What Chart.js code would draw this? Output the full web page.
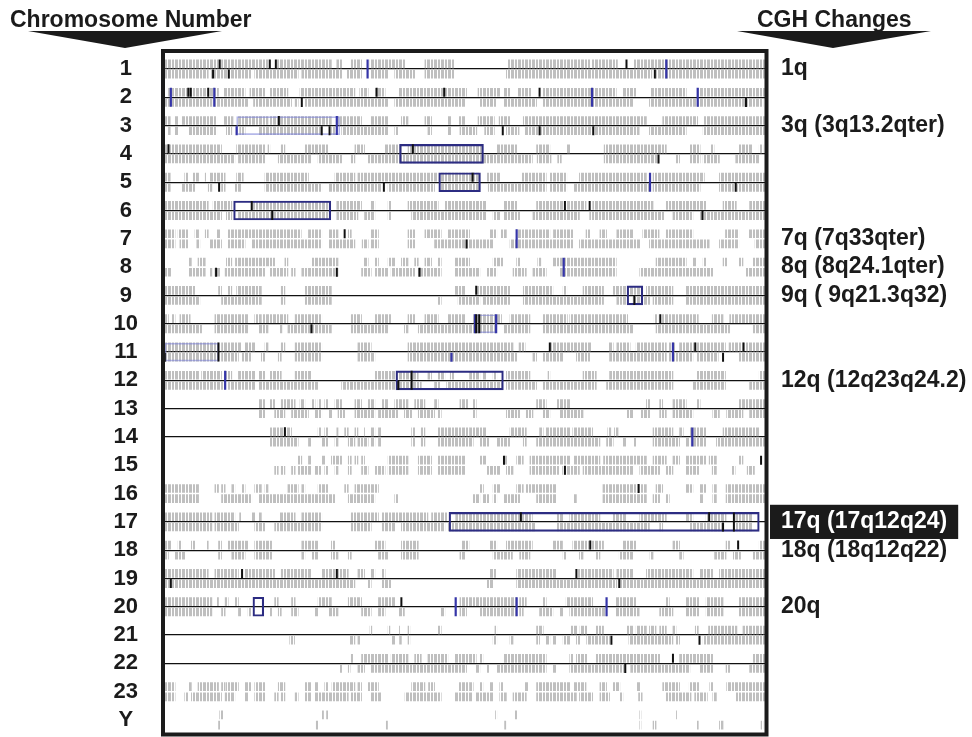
<!DOCTYPE html>
<html>
<head>
<meta charset="utf-8">
<script src="https://cdn.jsdelivr.net/npm/chart.js@4.4.1/dist/chart.umd.min.js"></script>
<style>
  html, body { margin: 0; padding: 0; background: #fff; }
</style>
</head>
<body>
<canvas id="cghChart" width="972" height="737"></canvas>
<script>
// ---- Data -------------------------------------------------------------------

const chromosomes = ['1','2','3','4','5','6','7','8','9','10','11','12','13','14','15','16','17','18','19','20','21','22','23','Y'];

const cghChanges = ['1q','','3q (3q13.2qter)','','','','7q (7q33qter)','8q (8q24.1qter)','9q ( 9q21.3q32)','','','12q (12q23q24.2)',
  '','','','','17q (17q12q24)','18q (18q12q22)','','20q','','','',''];

const highlightedChange = '17';
const rowsWithLine = ['1','2','3','4','5','6','9','10','11','12','13','14','17','18','19','20','21','22'];

// gray tracks above the row line, per chromosome, as [start, end] along the row (0-100)
const grayUpper = [
  [[0.3,9.2],[9.7,17.4],[18.8,27.9],[28.8,29.6],[31.2,32.9],[34.3,40.1],[43.4,48.3],[57.2,70.7],[71,75.3],[78.1,99.7]],
  [[0.9,9.2],[10,13.6],[14.4,16.9],[17.7,20.7],[22.7,31.8],[32.6,34],[35.1,36.8],[39,50.3],[52.2,55.8],[56.4,57.5],[58.8,61],[62.9,75.1],[76.2,78.4],[80.9,86.7],[88.5,99.7]],
  [[0.3,1.2],[2,2.5],[3.1,8.9],[10,11.6],[12.5,17.4],[17.7,27.9],[29,32.9],[34.5,37.3],[39.5,40.6],[43.4,44.5],[47.2,47.8],[49,50],[52.2,54.9],[55.7,57.5],[59.7,80.1],[82.8,88.6],[89.7,99.7]],
  [[0.3,9.7],[12.2,17],[17.4,17.7],[19.6,20.2],[23.5,27.4],[31.8,33.4],[36.8,39.5],[40.6,53],[55.3,58.6],[61.9,64.1],[66.9,67.4],[73.1,83.4],[87.3,89],[90.7,91.3],[95.5,97.7],[98.8,99.4]],
  [[0.3,1.2],[3.6,4.2],[5,5.9],[7,7.2],[7.8,10.3],[12.2,13.3],[16.9,24.1],[28.5,31.8],[32.3,45.6],[46.1,52.5],[53.6,55.8],[59.4,63.5],[64.1,66.9],[69,80.1],[81.2,89.7],[92.2,99.7]],
  [[0.3,7.5],[8.3,11.4],[14.7,27.4],[28.8,32.9],[34.5,35.1],[37.3,37.8],[40.6,45.6],[46.7,53.6],[56.4,58.6],[61.9,66.3],[66.9,70.1],[71.2,81.2],[83.4,90],[92.8,95],[97.2,99.7]],
  [[0.3,2],[2.5,4.2],[5.3,5.9],[7,7.5],[8.9,9.4],[10.8,22.9],[24.1,26.3],[27.4,29],[30.7,31.2],[34.5,35.7],[40.6,41.7],[43.4,46.1],[47.2,50.8],[54.1,55.3],[56,56.9],[58.6,64.1],[64.7,67.9],[70.1,70.7],[72.4,73.5],[75.2,77.9],[79.5,82.2],[83.4,87.8],[93.2,95.4],[97,99.7]],
  [[4.2,4.7],[5.8,7],[10.5,11.4],[12,18.5],[20.2,20.7],[24.6,29],[33.2,34],[35.1,35.7],[37.3,38.4],[39.5,40.6],[41.7,42.3],[43.4,44.5],[45.6,46.1],[48.3,50.8],[54.7,56.4],[58.6,59.1],[62.1,62.6],[64.6,75.1],[81.7,86.7],[87.8,88.4],[89.5,90],[92.8,93.4],[95.5,96.1],[97.7,99.7]],
  [[0.3,5.3],[9.2,9.7],[10.8,11.4],[12.2,16.3],[19.6,20.2],[23.5,27.9],[48.3,50],[52,57.5],[59.7,64.6],[66.3,66.9],[69.6,73],[74.6,79.5],[80.1,84.5],[86.7,99.7]],
  [[0.3,0.9],[1.4,2],[2.8,4.5],[8.6,14.1],[15.2,16.3],[16.6,20.7],[21.9,26.3],[31.2,32.9],[35.1,37.8],[40.6,41.7],[43.4,45.6],[47.2,50],[51.4,56.1],[57.5,60.8],[63,67],[67.4,77],[81.4,82],[82.5,88.7],[91,92.8],[93.9,99.7]],
  [[0.3,9.2],[9.7,13],[13.6,15.2],[16.9,17.4],[19.6,20.2],[21.9,26.3],[32.3,34.5],[40.6,58],[59,60],[64,71],[73.9,74.6],[75.2,77.4],[78.4,83.4],[83.8,84.9],[85.6,93.2],[93.8,96.2],[96.6,99.7]],
  [[0.3,5.9],[6.4,9.7],[10.5,11.4],[12.5,15.2],[15.8,16.9],[17.7,19.6],[21.9,24.6],[35.1,42.3],[43.9,44.5],[45.6,46.7],[47.6,48.2],[50.8,52.5],[53,53.6],[54.7,55.3],[56.9,60.8],[63.8,64.1],[69.6,71.8],[74,84.5],[88.4,93.2],[98.8,99.7]],
  [[15.8,16.9],[17.7,18.5],[19.6,21.9],[22.7,23.5],[24.6,25.2],[25.7,26.3],[26.8,27.4],[28.5,29.6],[31.8,32.9],[34,35.1],[36.2,37.3],[38.4,40.6],[41.7,43.4],[45,45.6],[49.2,50.5],[51.4,51.9],[61.9,63.5],[65.2,67.4],[80.1,80.7],[82.3,82.8],[84.5,86.7],[88.4,89],[95.5,99.7]],
  [[17.7,21.3],[25.7,26.3],[26.8,27.4],[28.8,29],[30.1,30.7],[31.8,32.3],[33.2,33.4],[34.5,35.1],[35.7,36.2],[41.2,41.7],[42.8,43.4],[45.6,50.7],[50.8,53.6],[57.5,60.2],[62.4,63],[63.5,67.4],[67.9,71.2],[73.7,74.2],[74.8,75.4],[81.2,84.5],[85.6,86.2],[87.3,90],[92.8,98.8]],
  [[22.4,23],[24.1,24.6],[26.3,26.8],[27.9,29.6],[30.7,31.2],[31.8,32.3],[32.9,33.4],[37.3,40.6],[42.3,44.5],[45.6,50],[52.5,53.6],[56.4,57],[58.6,59.7],[60.8,67.4],[68,72.4],[73,80.1],[81.2,83.4],[84.5,85.6],[86.7,90],[90.5,91.7],[95.5,96.1]],
  [[0.3,5.9],[8.6,9.2],[9.7,10.3],[11.4,11.9],[13,13.6],[15.2,16.3],[16.9,17.4],[20.7,22.4],[23,23.5],[25.7,27.4],[30.1,30.7],[31.8,35.7],[52.5,53.1],[54.7,55.8],[58.6,59.7],[60.2,65.2],[72.9,78.4],[78.9,80.1],[81.7,82.8],[86.7,87.8],[88.9,90],[91.1,91.7],[93.3,99.7]],
  [[0.3,8.1],[8.6,11.9],[12.7,13],[14.7,15.2],[15.8,16.3],[19.4,21.9],[23,26.3],[31.2,35.7],[36.2,43.9],[44.5,47.2],[48.5,61.2],[65.2,66.3],[67.4,72.4],[74.6,76.8],[79,83.4],[86.7,87.8],[90,93.3],[94.9,97.7]],
  [[0.3,1.4],[2.5,3.1],[4.7,5.3],[7.2,7.5],[9.2,9.7],[10.8,14.1],[15.2,18],[23,25.7],[27.9,28.5],[35.1,36.8],[39.5,42.3],[49.5,50.7],[54.1,55.3],[56.9,61.2],[64.6,66.2],[67.9,73],[76.2,78.4],[84.5,85.6],[93.3,93.9],[98.8,99.7]],
  [[0.3,7.5],[8.6,12.5],[13.6,18.5],[19.6,24.6],[26.3,30.7],[32.3,33.4],[34.5,35.1],[36.2,36.8],[54.1,55.2],[58.6,65.2],[68.6,74.6],[75.2,77.9],[80.1,87.8],[88.9,91.1],[92.2,99.7]],
  [[0.3,8.1],[8.9,9.2],[10.3,10.8],[11.9,12.5],[18.5,19.1],[21.3,21.9],[25.7,27.9],[30.7,32.9],[35.7,38.4],[49.2,58.6],[59.1,60.2],[62.9,63.5],[66.8,71.2],[75.1,78.4],[83.4,83.9],[86.7,88.9],[90,92.8],[95.5,99.7]],
  [[34.3,34.6],[37.3,37.6],[39,39.2],[40.6,40.9],[45.6,46.1],[55,55.3],[61.9,63],[67.6,68.7],[69.1,70.2],[71.8,73],[76.8,77.9],[78.4,80.1],[80.6,81.7],[82.3,83.4],[84.5,85],[88.2,88.7],[90.4,95.1],[96.1,99.7]],
  [[31.2,31.5],[32.9,37.3],[37.8,40.6],[41.7,42.8],[43.9,47.2],[48.3,51.9],[52.5,53],[56.4,63.5],[67.4,68],[68.5,70.2],[71.8,82.3],[85.6,91.1],[97.7,99.7]],
  [[0.3,2],[4.2,4.7],[5.8,9.2],[9.7,10.3],[10.5,12.5],[13.6,14.7],[15.2,16.9],[19.1,20.2],[23.5,24.6],[25.2,25.7],[26.8,27.4],[28,31.8],[32.3,32.9],[34,35.7],[41.2,43.4],[44,45],[49,50.7],[50.8,51.4],[52.5,53],[54.1,54.7],[55.8,56.4],[59.9,60.5],[61.9,67.4],[68,70.1],[72.4,73.5],[74.6,75.7],[78.5,79],[82.8,85.6],[87.2,88.9],[90.6,91.1],[93.4,99.7]],
  [[9.4,9.9],[26.3,26.6],[27.1,27.4],[55.1,55.3],[58.3,58.6],[79,79.2],[85,85.1]]
];

// gray tracks below the row line
const grayLower = [
  [[0.3,7.5],[8,14.7],[15.2,22.4],[23,29.6],[30.4,32.9],[34.5,37.3],[38.4,41.7],[43.4,48.3],[56.9,81],[81.6,99.7]],
  [[0.3,8.1],[8.6,14.1],[15,21.3],[21.9,22.4],[23.5,37.3],[38.4,50],[52.5,55.2],[56.4,61.9],[63,77.9],[80.6,99.4]],
  [[0.9,1.2],[2,2.5],[4.2,8.9],[10.5,11.4],[12.7,13.6],[15.8,26.3],[27.9,28.8],[29.6,37.3],[38.4,39],[43.9,44.5],[47.2,47.8],[49.2,52],[53.3,54.9],[56.9,59],[60,78.9],[80.6,86.7],[89.5,99.7]],
  [[0.3,11.9],[12.5,17],[19.1,24.6],[25.7,29.6],[31.2,31.8],[34,61.2],[62,64.3],[65.4,66],[73.1,82.2],[85,85.6],[87.3,89],[89.5,92.2],[94.9,98.8]],
  [[0.3,1.2],[3.1,5.3],[7.5,8.1],[9.7,10.3],[11.9,13],[16.9,26.3],[27.4,36.2],[37.3,45],[46.1,52.5],[53.9,63.5],[64.1,66.9],[68,80.6],[81.2,89],[92.2,99.7]],
  [[0.3,9.7],[10.5,11.4],[12.5,27.4],[28.8,32.3],[33.4,35.1],[37.3,37.8],[41.2,53.6],[54.7,55.8],[56.4,59.1],[61.3,69],[70.7,83],[84.5,87.8],[89,99.7]],
  [[0.3,2],[2.8,4.2],[5.6,6.1],[7.8,9.7],[10.8,13.6],[14.7,26.3],[27.4,31.8],[33,34],[34.5,35.7],[40.6,41.7],[45,50],[50.3,54.7],[57.5,67.9],[69,79.1],[80.6,90.5],[92.2,95.4],[98.1,99.7]],
  [[0.3,1.4],[4.2,7],[7.8,8.1],[8.6,9.4],[10.3,16.9],[17.7,20.7],[21.3,21.9],[23,29],[32.9,34.5],[35.1,37.3],[37.8,41.7],[42.3,46.1],[48.3,52.5],[53.6,55.3],[58,60.2],[61.3,63.5],[65.7,75.1],[79,91.1],[96.6,99.7]],
  [[0.3,6.1],[9.7,16.3],[19.6,20.2],[23.5,27.9],[45.6,46.1],[48.9,52.5],[53,57.5],[59.7,73],[75.2,77],[77.9,80.7],[81.2,84.5],[86.7,99.7]],
  [[0.3,6.4],[8.6,14.1],[15.8,17.4],[19.4,19.7],[20.7,27.9],[31.2,37.3],[40,40.6],[42.3,55.2],[56.4,60.8],[63,77.9],[81.7,93.9],[97.7,99.7]],
  [[0.3,9.2],[9.7,12.5],[13,14.7],[16.3,16.9],[19.1,19.6],[21.9,26.3],[32.3,35.1],[40.6,58.6],[61.3,61.9],[62.9,66.3],[68.5,70.7],[74,83.4],[83.8,87.8],[88.4,92],[95.5,99.7]],
  [[0.3,10.3],[10.8,15.2],[15.8,25.7],[29.6,42.8],[45,46],[47,56.3],[56.9,61.9],[63,71.8],[73.5,84.5],[87.8,93.2],[97.2,99.7]],
  [[15.8,16.9],[18.5,20.2],[21.3,24.1],[25.2,26.3],[27.4,28],[29,30.1],[31.8,35.1],[35.7,39],[40,41.2],[42.3,45],[45.6,46.1],[51.4,51.9],[56.9,59.1],[60.2,61.3],[62.9,64.1],[65.7,69.6],[76.8,77.9],[79.1,80.7],[82.3,83.4],[84.5,87.8],[91.1,92.2],[93.4,96.1],[97.2,99.7]],
  [[17.7,22.4],[24.1,24.6],[26.3,27.4],[28.5,29],[30.7,31.8],[32.3,34],[34.5,35.1],[35.7,36.2],[41.2,41.7],[42.8,43.4],[45.6,51.4],[52.5,54.1],[55.3,57.5],[59.7,60.2],[61.9,72.4],[73.5,74.6],[76.2,76.8],[78,78.4],[81.2,85.6],[86.7,87.3],[87.8,90],[91.7,99.7]],
  [[18.5,19.1],[19.6,20.2],[21.3,21.9],[22.4,24.6],[25.2,26.3],[26.8,27.4],[28.5,29],[30.7,31.2],[32.9,34],[35.1,36.8],[37.3,40.6],[42.3,44.5],[45.6,50],[53.6,55.8],[56.9,58],[60.8,65.7],[66.2,69],[69.6,77.9],[79,82.3],[83.4,84.5],[86.7,88.9],[91,91.7],[94.2,94.8],[96.8,98]],
  [[0.3,5.9],[9.7,14.7],[15.8,28.5],[30.7,35.1],[38.4,38.9],[51.4,52.5],[53,54.1],[54.7,55.3],[56.4,59.1],[61.9,65.2],[68,68.5],[72.9,80.1],[81.2,82.3],[83.4,83.9],[89,89.5],[91.1,91.7],[93.3,99.7]],
  [[0.3,8.1],[8.6,12.5],[15.2,16.9],[18.5,26.3],[31.2,34.5],[36.2,38.4],[39.5,46.7],[47.2,61.7],[65.2,80.6],[82.3,82.8],[87.3,92.8],[95,97.7]],
  [[0.3,0.9],[2,3.6],[9.2,9.7],[11.4,13.6],[15.2,18],[23,23.5],[24.6,25.7],[27.9,29],[30.7,31.2],[35.7,37.3],[39.5,42.3],[49.2,50],[54.7,57.9],[59.1,60.8],[66.3,66.8],[69,69.6],[71.8,72.4],[75.6,77.9],[80.7,81.2],[85.6,86.2],[91.4,93.3],[94.5,95.7],[97.7,99.7]],
  [[0.3,31.8],[34,34.5],[36.2,37.8],[53.6,54.7],[58.6,75.2],[75.8,99.7]],
  [[0.3,8.1],[9.7,10.3],[12.5,13],[14.1,14.7],[17.7,18],[19.1,19.6],[21.3,22.4],[25.2,25.7],[27.4,29],[32.9,34.5],[35.7,36.8],[39,40],[46.1,46.7],[49.2,50.3],[52.5,58.6],[59.1,59.7],[62.4,64.6],[65.7,66.3],[67.4,73.5],[75.1,78.9],[82.3,84.5],[86.7,88.9],[90,92.8],[95.5,99.7]],
  [[21,21.8],[31,31.8],[32.3,32.6],[37.9,38.4],[39.2,39.5],[40.6,40.9],[54.7,55.3],[57.5,58],[61.9,62.4],[63.5,64.1],[64.6,65.2],[66.3,67.4],[68.5,69.1],[70.2,74],[77.2,84.5],[85,85.6],[89.5,99.7]],
  [[29.3,29.6],[30.7,31],[32.3,33.4],[34.5,50.3],[51.9,52.5],[53.6,54.1],[55.3,63.5],[64.6,65.2],[67.4,76.5],[77.5,87.3],[88.9,91.1],[93.3,93.9],[97.2,99.7]],
  [[0.3,2],[3.6,4.2],[4.7,9.7],[10.3,11.9],[13.6,14.1],[15.2,16.9],[18.5,19.1],[19.6,20.2],[21.9,22.4],[23.5,24.6],[25.2,30.7],[31.2,32.9],[34.5,36.2],[40.1,46.1],[48.3,51.2],[51.9,54.7],[55.8,56.9],[58,60.2],[61.9,68.5],[69,71.2],[72.4,74],[75.7,76.2],[78.8,79.4],[83.4,87.5],[88.1,90.2],[91.1,91.7],[95,99.7]],
  [[9.2,9.4],[25.4,25.7],[37,37.2],[56.6,56.8],[79,79.2],[81.2,81.7],[88.4,88.7],[92.2,92.8],[99.1,99.4]]
];

// single marks: [chromosome, position]
const blackUpper = [['1',9.4],['1',17.7],['1',18.7],['1',76.8],['2',4.2],['2',4.6],['2',7.5],['2',35.4],['2',46.6],['2',62.4],
  ['3',19.2],['4',0.9],['4',41.4],['5',51.3],['6',14.7],['6',66.6],['6',70.7],['7',30.1],['9',51.9],['10',82.4],
  ['11',64.1],['11',88.2],['11',96.2],['14',20.2],['15',56.5],['15',99.1],['16',78.8],['17',59.3],['17',90.5],
  ['18',70.8],['18',95.3],['19',13.1],['19',28.8],['19',68.5],['20',39.5],['22',84.5]];
const blackLower = [['1',8.3],['1',10.9],['1',81.5],['2',23],['2',96.6],['3',26.3],['3',27.6],['3',56.3],['3',62.4],['3',71.3],
  ['4',82.1],['5',9.3],['5',36.6],['5',94.9],['6',18.1],['6',89.4],['7',50.3],['8',8.8],['8',28.8],['8',42.5],['9',78.1],
  ['10',24.6],['11',0.3],['11',92.8],['12',39],['15',66.6],['17',92.8],['19',1.3],['19',75.6],['21',74.3],['21',88.9],['22',76.6]];
const blackFull = [['10',51.9],['10',52.4],['11',9.2],['12',41.2],['17',94.6]];
const blueFull = [['1',33.9],['1',83.4],['2',1.3],['2',8.5],['2',71.1],['2',88.6],['3',28.8],['5',80.7],['7',58.6],['8',66.4],
  ['10',51.7],['10',55.2],['11',84.5],['12',10.3],['14',87.7],['20',48.5],['20',58.6],['20',73.5]];
const blueLower = [['3',12.2],['11',47.8]];

// gained regions (boxed) and faint outlines: [chromosome, start, end]
const gainBoxes = [['4',39.2,53.1],['5',45.7,52.6],['6',11.7,27.8],['9',76.9,79.5],['12',38.6,56.4],['17',47.4,98.8],['20',14.9,16.7]];
const faintBoxes = [['3',12.2,29.3],['10',51.7,55.2],['11',0.3,9.2]];

// ---- Chart ------------------------------------------------------------------

const FONT = "'Liberation Sans', Arial, Helvetica, sans-serif";
const HALF = 0.18;   // offset of the upper / lower track from the row centre (rows)

const rowOf = c => chromosomes.indexOf(c) + 1;
const trackPoints = (rows, off) => rows.flatMap((segs, i) => segs.map(s => ({ x: s, y: i + 1 + off })));
const markPoints = (list, off) => list.map(([c, p]) => ({ x: p, y: rowOf(c) + off }));
const boxPoints = list => list.map(([c, a, b]) => ({ x: [a, b], y: rowOf(c) }));

function stripes() {
  const c = document.createElement('canvas');
  c.width = 14; c.height = 4;
  const g = c.getContext('2d');
  g.fillStyle = '#bfbfbf';
  [[0, 3], [4, 2], [7, 3], [11, 2]].forEach(([x, w]) => g.fillRect(x, 0, w, 4));
  return g.createPattern(c, 'repeat');
}
const grayFill = stripes();

const barBase = { type: 'bar', indexAxis: 'y', grouped: false, yAxisID: 'y', xAxisID: 'x' };
const tickBase = (color, radius, width) => ({
  type: 'scatter', showLine: false, yAxisID: 'y', xAxisID: 'x',
  pointStyle: 'line', pointRotation: 90, pointRadius: radius, pointHoverRadius: radius,
  borderColor: color, pointBorderColor: color, pointBorderWidth: width, pointHoverBorderWidth: width,
  order: 1
});

const framePlugin = {
  id: 'frame',
  afterDatasetsDraw(chart) {
    const { ctx, chartArea: a } = chart;
    ctx.save();
    ctx.strokeStyle = '#1b1b1b';
    ctx.lineWidth = 4;
    ctx.strokeRect(a.left, a.top, a.right - a.left, a.bottom - a.top);
    ctx.restore();
  }
};

const headerPlugin = {
  id: 'headers',
  afterDraw(chart) {
    const ctx = chart.ctx;
    ctx.save();
    ctx.fillStyle = '#1b1b1b';
    ctx.font = 'bold 23px ' + FONT;
    ctx.textBaseline = 'alphabetic';
    ctx.fillText('Chromosome Number', 10, 27);
    ctx.fillText('CGH Changes', 757, 27);
    [[28, 222, 125], [737, 931, 833]].forEach(([l, r, tip]) => {
      ctx.beginPath();
      ctx.moveTo(l, 31);
      ctx.lineTo(r, 31);
      ctx.lineTo(tip, 48);
      ctx.closePath();
      ctx.fill();
    });
    ctx.restore();
  }
};

const rowTicks = scale => { scale.ticks = chromosomes.map((c, i) => ({ value: i + 1 })); };

new Chart(document.getElementById('cghChart'), {
  type: 'bar',
  data: {
    datasets: [
      { ...barBase, label: 'upper', data: trackPoints(grayUpper, -HALF), barThickness: 8, backgroundColor: grayFill, borderWidth: 0, order: 10 },
      { ...barBase, label: 'lower', data: trackPoints(grayLower, HALF), barThickness: 8, backgroundColor: grayFill, borderWidth: 0, order: 10 },
      { ...barBase, label: 'faint', data: boxPoints(faintBoxes), barThickness: 18, backgroundColor: 'rgba(0,0,0,0)',
        borderColor: 'rgba(120,125,215,0.55)', borderWidth: 1, borderSkipped: false, order: 5 },
      { ...barBase, label: 'gain', data: boxPoints(gainBoxes), barThickness: 19, backgroundColor: 'rgba(0,0,0,0)',
        borderColor: '#2c2c82', borderWidth: 1.5, borderSkipped: false, order: 3 },
      { ...tickBase('#111', 4.5, 2), label: 'black up', data: markPoints(blackUpper, -HALF) },
      { ...tickBase('#111', 4.5, 2), label: 'black low', data: markPoints(blackLower, HALF) },
      { ...tickBase('#111', 9.5, 2), label: 'black full', data: markPoints(blackFull, 0) },
      { ...tickBase('#3535a8', 9.5, 2.2), label: 'blue full', data: markPoints(blueFull, 0) },
      { ...tickBase('#3535a8', 4.5, 2.2), label: 'blue low', data: markPoints(blueLower, HALF) }
    ]
  },
  options: {
    responsive: false,
    animation: false,
    events: [],
    layout: { autoPadding: false, padding: { top: 51, bottom: 2.5, left: 0, right: 0 } },
    plugins: { legend: { display: false }, tooltip: { enabled: false } },
    scales: {
      x: { type: 'linear', min: 0, max: 100, display: false, offset: false, grid: { offset: false }, beginAtZero: false },
      y: {
        type: 'linear', position: 'left', reverse: true, min: 0.364, max: 24.512,
        offset: false, beginAtZero: false,
        afterBuildTicks: rowTicks,
        afterFit: s => { s.width = 163; s.paddingTop = 0; s.paddingBottom = 0; },
        border: { display: false },
        grid: {
          offset: false,
          drawTicks: false,
          lineWidth: 1.3,
          color: ctx => (ctx.tick && rowsWithLine.includes(chromosomes[ctx.tick.value - 1])) ? '#111' : 'rgba(0,0,0,0)'
        },
        ticks: {
          autoSkip: false, crossAlign: 'center', padding: 25, color: '#1b1b1b',
          font: { family: FONT, size: 22, weight: 'bold' },
          callback: v => chromosomes[v - 1]
        }
      },
      y2: {
        type: 'linear', position: 'right', reverse: true, min: 0.364, max: 24.512,
        offset: false, beginAtZero: false,
        afterBuildTicks: rowTicks,
        afterFit: s => { s.width = 205.5; s.paddingTop = 0; s.paddingBottom = 0; },
        border: { display: false },
        grid: { display: false, drawTicks: false, offset: false },
        ticks: {
          autoSkip: false,
          padding: 14.5,
          font: { family: FONT, size: 23, weight: 'bold' },
          callback: v => cghChanges[v - 1],
          color: ctx => chromosomes[ctx.index] === highlightedChange ? '#fff' : '#1b1b1b',
          showLabelBackdrop: ctx => chromosomes[ctx.index] === highlightedChange,
          backdropColor: '#1b1b1b',
          backdropPadding: { left: 11, right: 11, top: 3.3, bottom: 3.3 }
        }
      }
    }
  },
  plugins: [framePlugin, headerPlugin]
});
</script>
</body>
</html>
